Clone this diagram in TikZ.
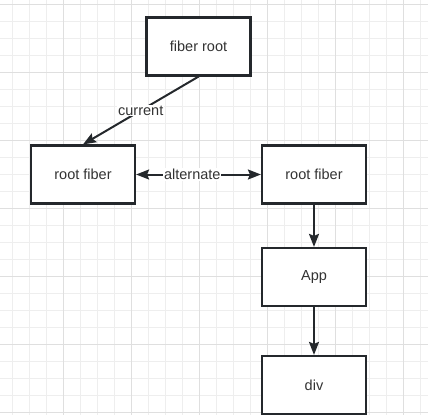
\documentclass[tikz,border=0pt]{standalone}
\usepackage{fontspec}
\setmainfont{Liberation Sans}
\usepackage{tikz}
\usetikzlibrary{arrows.meta, positioning}
\definecolor{gridminor}{HTML}{EEEEEE}
\definecolor{gridmajor}{HTML}{DFDFDF}
\definecolor{ink}{HTML}{24282C}
\definecolor{txt}{HTML}{333333}

\begin{document}
\begin{tikzpicture}[x=1pt, y=-1pt,
    fbox/.style={draw=ink, line width=2.2pt, fill=white, minimum width=104pt, minimum height=58pt, text=txt, font=\fontsize{14.5}{17}\selectfont},
    link/.style={draw=ink, line width=2pt, -{Stealth[length=13pt, width=10pt, inset=2pt]}},
    tag/.style={fill=white, text=txt, inner sep=1pt, font=\fontsize{14.5}{17}\selectfont}]
    \useasboundingbox (0,0) rectangle (428,415);
    \clip (0,0) rectangle (428,415);

    % grid
    \foreach \gx in {12,29,...,420} \draw[gridminor, line width=1pt] (\gx,0) -- (\gx,415);
    \foreach \gy in {4,21,...,412} \draw[gridminor, line width=1pt] (0,\gy) -- (428,\gy);
    \foreach \gx in {63,131,...,403} \draw[gridmajor, line width=1pt] (\gx,0) -- (\gx,415);
    \foreach \gy in {4,72,...,412} \draw[gridmajor, line width=1pt] (0,\gy) -- (428,\gy);

    \node[fbox] (froot) at (198.5,46.5) {fiber root};
    \node[fbox] (cur) at (83,174.5) {root fiber};
    \node[fbox] (alt) at (314,174.5) {root fiber};
    \node[fbox] (app) at (314,277) {App};
    \node[fbox] (div) at (314,385) {div};

    \draw[link] (froot.south) -- node[tag] {current} (cur.north);
    \draw[link, {Stealth[length=13pt, width=10pt, inset=2pt]}-{Stealth[length=13pt, width=10pt, inset=2pt]}] (cur.east) -- node[tag, pos=0.45] {alternate} (alt.west);
    \draw[link] (alt.south) -- (app.north);
    \draw[link] (app.south) -- (div.north);
\end{tikzpicture}
\end{document}
